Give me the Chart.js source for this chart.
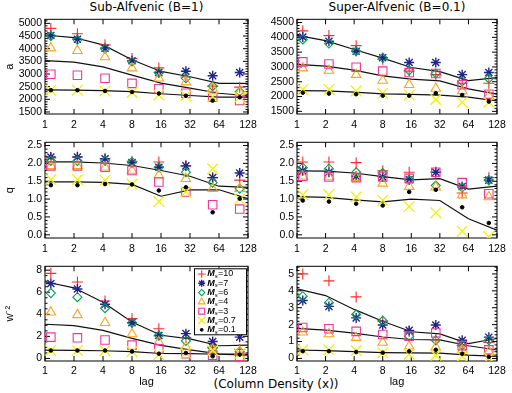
<!DOCTYPE html>
<html>
<head>
<meta charset="utf-8">
<script src="https://cdn.jsdelivr.net/npm/chart.js@4/dist/chart.umd.min.js"></script>
<style>
  body { margin: 0; background: #fff; width: 512px; height: 393px; position: relative; overflow: hidden; font-family: "DejaVu Sans", sans-serif; }
  canvas { position: absolute; }
  .t { position: absolute; font-size: 12px; line-height: 14px; white-space: nowrap; transform: translateX(-50%); color: #000; }
</style>
</head>
<body>
<div class="t" style="left:146.5px;top:0px">Sub-Alfvenic (B=1)</div>
<div class="t" style="left:397px;top:0px">Super-Alfvenic (B=0.1)</div>
<div class="t" style="left:276px;top:377px">(Column Density (x))</div>
<script>
// lag positions of the markers and of the fitted lines
const lags = [1.15, 2.17, 4.2, 8, 15.2, 29, 55, 105];
const lineLags = [1, 2, 4, 8, 16, 32, 64, 128];
const xTicks = [1, 2, 4, 8, 16, 32, 64, 128];
const machLabels = ['10', '7', '6', '4', '3', '0.7', '0.1'];

// rows: Ms = 10, 7, 6, 4, 3, 0.7, 0.1
const aSub = [
  [4800, 4590, 4150, 3610, 3240, 2880, 2520, 2480],
  [4520, 4370, 4020, 3520, 3060, 3110, 2930, 3060],
  [4500, 4350, 4000, 3490, 3050, 2830, 2520, 2300],
  [4020, 3920, 3670, 3230, 2830, 2680, 2430, 2270],
  [2990, 2950, 2830, 2630, 2420, 2240, 2080, 1950],
  [2360, 2360, 2330, 2270, 2170, 2140, 2100, 2080],
  [2360, 2360, 2330, 2290, 2230, 2140, 1950, 2080]
];
const aSubLines = [
  [4540, 4440, 4150, 3560, 3100, 2890, 2630, 2630],
  [3530, 3470, 3280, 2955, 2640, 2440, 2240, 2140],
  [2375, 2365, 2340, 2300, 2220, 2150, 2090, 2085]
];
const aSup = [
  [4220, 4060, 3720, 3260, 2860, 2740, 2450, 2450],
  [4010, 3870, 3530, 3310, 3150, 3150, 2740, 2810],
  [3930, 3790, 3530, 3310, 2880, 2780, 2510, 2610],
  [2960, 2880, 2740, 2540, 2400, 2270, 2190, 2030],
  [3170, 3100, 2990, 2860, 2810, 2780, 2400, 2080],
  [2240, 2240, 2190, 2110, 2050, 1900, 1810, 1810],
  [2130, 2100, 2080, 2030, 2030, 2110, 2050, 1830]
];
const aSupLines = [
  [4070, 3890, 3590, 3300, 2980, 2840, 2540, 2640],
  [3090, 3030, 2890, 2700, 2590, 2530, 2260, 2080],
  [2200, 2190, 2150, 2090, 2070, 2050, 1980, 1850]
];
const qSub = [
  [2.15, 2.18, 2.13, 2.06, 2.04, 1.93, 1.60, 1.53],
  [2.18, 2.18, 2.13, 2.02, 1.89, 1.93, 1.60, 1.73],
  [2.07, 2.07, 2.07, 2.04, 1.89, 1.75, 1.46, 1.29],
  [1.93, 1.93, 1.89, 1.80, 1.67, 1.57, 1.29, 1.29],
  [1.93, 1.93, 1.89, 1.80, 1.48, 1.20, 0.84, 0.72],
  [1.55, 1.55, 1.53, 1.42, 0.93, 1.20, 1.85, 1.00],
  [1.39, 1.39, 1.42, 1.41, 1.24, 1.33, 0.63, 1.01]
];
const qSubLines = [
  [2.04, 2.04, 2.01, 1.94, 1.80, 1.64, 1.36, 1.33],
  [1.48, 1.48, 1.47, 1.41, 1.08, 1.26, 1.26, 1.01]
];
const qSup = [
  [2.04, 2.04, 2.02, 1.79, 1.75, 1.75, 1.17, 1.60],
  [1.79, 1.75, 1.64, 1.62, 1.54, 1.75, 1.35, 1.53],
  [1.88, 1.85, 1.75, 1.73, 1.54, 1.38, 1.33, 1.53],
  [1.64, 1.62, 1.60, 1.44, 1.35, 1.33, 1.11, 1.06],
  [1.64, 1.62, 1.60, 1.62, 1.58, 1.75, 1.46, 1.15],
  [1.12, 1.12, 1.06, 0.97, 0.79, 0.62, 0.10, -0.05],
  [0.96, 0.93, 0.87, 0.82, 1.20, 1.26, 0.77, 0.33]
];
const qSupLines = [
  [1.79, 1.78, 1.73, 1.63, 1.54, 1.57, 1.28, 1.36],
  [1.07, 1.05, 0.98, 0.92, 1.00, 0.96, 0.45, 0.13]
];
const wSub = [
  [7.71, 6.93, 5.20, 3.61, 2.69, 1.90, 1.00, 0.81],
  [6.79, 6.30, 4.91, 3.23, 2.08, 2.25, 1.53, 1.93],
  [5.92, 5.55, 4.56, 3.23, 2.08, 1.59, 0.92, 0.63],
  [4.19, 3.95, 3.23, 2.22, 1.50, 1.07, 0.81, 0.63],
  [1.93, 1.87, 1.67, 1.21, 0.87, 0.43, 0.29, 0.20],
  [0.72, 0.72, 0.72, 0.63, 0.35, 0.49, 0.72, 0.43],
  [0.72, 0.72, 0.72, 0.63, 0.43, 0.49, 0.20, 0.35]
];
const wSubLines = [
  [6.95, 6.40, 5.10, 3.30, 2.10, 1.78, 1.15, 1.20],
  [3.10, 2.98, 2.55, 1.82, 1.18, 0.78, 0.42, 0.37],
  [0.75, 0.74, 0.70, 0.62, 0.45, 0.43, 0.38, 0.30]
];
const wSup = [
  [5.00, 4.59, 3.64, 2.21, 1.60, 1.10, 0.76, 0.94],
  [3.43, 3.08, 2.40, 1.98, 1.66, 1.98, 1.08, 1.26],
  [3.68, 3.30, 2.60, 2.23, 1.32, 1.08, 0.79, 1.08],
  [1.55, 1.45, 1.23, 0.94, 0.72, 0.66, 0.51, 0.42],
  [1.83, 1.76, 1.60, 1.42, 1.32, 1.51, 0.76, 0.51],
  [0.51, 0.51, 0.47, 0.34, 0.25, 0.19, 0.13, 0.04],
  [0.43, 0.43, 0.38, 0.34, 0.42, 0.51, 0.28, 0.09]
];
const wSupLines = [
  [4.12, 3.72, 2.90, 2.20, 1.58, 1.45, 0.88, 1.18],
  [1.78, 1.68, 1.50, 1.27, 1.12, 1.10, 0.75, 0.50],
  [0.50, 0.46, 0.40, 0.35, 0.33, 0.32, 0.20, 0.12]
];

const aSubTicks = [1500, 2000, 2500, 3000, 3500, 4000, 4500, 5000];
const aSupTicks = [1500, 2000, 2500, 3000, 3500, 4000, 4500];
const qTicks = [0, 0.5, 1, 1.5, 2, 2.5];
const wSubTicks = [0, 2, 4, 6, 8];
const wSupTicks = [0, 1, 2, 3, 4, 5];

const seriesStyle = [
  { shape: 'cross',    color: '#ff2a2a', r: 5.5, w: 1.1 },
  { shape: 'star',     color: '#23238f', r: 5,   w: 1.4 },
  { shape: 'rectRot',  color: '#00a050', r: 4.5, w: 1.1 },
  { shape: 'triangle', color: '#ffa31a', r: 5.5, w: 1.1 },
  { shape: 'rect',     color: '#f0369a', r: 6,   w: 1.1 },
  { shape: 'crossRot', color: '#f2f200', r: 7.5, w: 1.3 },
  { shape: 'circle',   color: '#000000', r: 1.8, w: 1, fill: true }
];

const tickFont = { family: '"Liberation Sans", sans-serif', size: 10.5 };

// box = plot area [left, top, right, bottom] in page pixels
const panels = [
  { pts: aSub, lines: aSubLines, ticks: aSubTicks, min: 1420, max: 5160, step: 500, minor: 100, box: [45, 15, 248, 114], yTitle: 'a' },
  { pts: aSup, lines: aSupLines, ticks: aSupTicks, min: 1410, max: 4610, step: 500, minor: 100, box: [297, 15, 497, 114] },
  { pts: qSub, lines: qSubLines, ticks: qTicks, min: -0.09, max: 2.59, step: 0.5, minor: 0.1, box: [45, 138, 248, 238], yTitle: 'q', dec: 1 },
  { pts: qSup, lines: qSupLines, ticks: qTicks, min: -0.09, max: 2.59, step: 0.5, minor: 0.1, box: [297, 138, 497, 238], dec: 1 },
  { pts: wSub, lines: wSubLines, ticks: wSubTicks, min: -0.23, max: 8.35, step: 2, minor: 0.5, box: [45, 262, 248, 361], yTitle: 'w\u207B\u00B2', xTitle: 'lag', legend: true },
  { pts: wSup, lines: wSupLines, ticks: wSupTicks, min: -0.15, max: 5.45, step: 1, minor: 0.2, box: [297, 262, 497, 361], xTitle: 'lag' }
];

// frame with inward ticks on all four sides, like the original
const frameTicks = {
  id: 'frameTicks',
  beforeDatasetsDraw(chart, args, opts) {
    const { ctx, chartArea: a, scales: { x, y } } = chart;
    ctx.save();
    ctx.strokeStyle = '#000';
    ctx.lineWidth = 1;
    ctx.strokeRect(a.left, a.top, a.right - a.left, a.bottom - a.top);
    ctx.beginPath();
    xTicks.forEach(v => {
      const px = x.getPixelForValue(v);
      ctx.moveTo(px, a.bottom); ctx.lineTo(px, a.bottom - 5);
      ctx.moveTo(px, a.top); ctx.lineTo(px, a.top + 5);
    });
    const i0 = Math.ceil(y.min / opts.minor - 1e-9), i1 = Math.floor(y.max / opts.minor + 1e-9);
    for (let i = i0; i <= i1; i++) {
      const v = i * opts.minor;
      const py = y.getPixelForValue(v);
      const r = v / opts.step;
      const len = Math.abs(r - Math.round(r)) < 1e-6 ? 5 : 2.5;
      ctx.moveTo(a.left, py); ctx.lineTo(a.left + len, py);
      ctx.moveTo(a.right, py); ctx.lineTo(a.right - len, py);
    }
    ctx.stroke();
    ctx.restore();
  }
};

// boxed legend inside the lower-left panel
const machLegend = {
  id: 'machLegend',
  afterDatasetsDraw(chart, args, opts) {
    if (!opts.show) return;
    const { ctx, chartArea: a } = chart;
    const w = 52, h = 66, x0 = a.right - w - 2, y0 = a.top + 2;
    ctx.save();
    ctx.fillStyle = '#fff';
    ctx.fillRect(x0, y0, w, h);
    ctx.strokeStyle = '#000';
    ctx.lineWidth = 1;
    ctx.strokeRect(x0 + 0.5, y0 + 0.5, w, h);
    machLabels.forEach((m, k) => {
      const s = seriesStyle[k];
      const cy = y0 + 5.7 + k * 9.3;
      ctx.strokeStyle = s.color;
      ctx.fillStyle = s.fill ? s.color : 'rgba(0,0,0,0)';
      ctx.lineWidth = s.w;
      Chart.helpers.drawPoint(ctx, { pointStyle: s.shape, radius: s.fill ? 1.4 : s.r * 0.7, rotation: 0, borderWidth: s.w }, x0 + 7.7, cy);
      ctx.fillStyle = '#000';
      ctx.textBaseline = 'middle';
      let tx = x0 + 13.3;
      ctx.font = 'italic bold 9px "Liberation Sans"';
      ctx.fillText('M', tx, cy);
      tx += ctx.measureText('M').width;
      ctx.font = 'italic 6px "Liberation Sans"';
      ctx.fillText('s', tx, cy + 2.5);
      tx += ctx.measureText('s').width + 0.3;
      ctx.font = '9px "Liberation Sans"';
      ctx.fillText('=' + m, tx, cy);
    });
    ctx.restore();
  }
};

panels.forEach(p => {
  const [L, T, R, B] = p.box;
  const xH = p.xTitle ? 393 - B : 18;
  const cv = document.createElement('canvas');
  cv.width = R - L + 45 + 14;
  cv.height = B - T + 5 + xH;
  cv.style.left = (L - 45) + 'px';
  cv.style.top = (T - 5) + 'px';
  document.body.appendChild(cv);

  const datasets = [];
  p.lines.forEach(ln => datasets.push({
    type: 'line',
    data: lineLags.map((x, i) => ({ x, y: ln[i] })),
    showLine: true, borderColor: '#111', borderWidth: 1.2, pointRadius: 0, tension: 0, order: 10
  }));
  p.pts.forEach((ser, k) => {
    const s = seriesStyle[k];
    datasets.push({
      label: 'Ms=' + machLabels[k],
      data: lags.map((x, i) => ({ x, y: ser[i] })),
      showLine: false,
      pointStyle: s.shape,
      pointRadius: s.r,
      borderColor: s.color,
      pointBorderColor: s.color,
      pointBackgroundColor: s.fill ? s.color : 'rgba(0,0,0,0)',
      pointBorderWidth: s.w,
      order: 7 - k
    });
  });

  new Chart(cv, {
    type: 'scatter',
    data: { datasets },
    plugins: [frameTicks, machLegend],
    options: {
      responsive: false,
      animation: false,
      events: [],
      layout: { padding: { top: 5, right: 14, left: 0, bottom: 0 } },
      plugins: {
        legend: { display: false },
        tooltip: { enabled: false },
        frameTicks: { step: p.step, minor: p.minor },
        machLegend: { show: !!p.legend }
      },
      scales: {
        x: {
          type: 'logarithmic', min: 1, max: 128,
          grid: { display: false, drawTicks: false },
          border: { display: false },
          afterBuildTicks: s => { s.ticks = xTicks.map(v => ({ value: v })); },
          afterFit: s => { s.height = xH; },
          ticks: { callback: v => String(v), color: '#000', font: tickFont, padding: p.xTitle ? 3.5 : 5, maxRotation: 0, autoSkip: false },
          title: { display: !!p.xTitle, text: p.xTitle || '', color: '#000', font: { family: '"Liberation Sans", sans-serif', size: 11 }, padding: { top: 2, bottom: 4 } }
        },
        y: {
          type: 'linear', min: p.min, max: p.max,
          grid: { display: false, drawTicks: false },
          border: { display: false },
          afterBuildTicks: s => { s.ticks = p.ticks.map(v => ({ value: v })); },
          afterFit: s => { s.width = 45; },
          ticks: { callback: v => p.dec ? v.toFixed(p.dec) : String(v), color: '#000', font: tickFont, padding: 3, autoSkip: false },
          title: { display: !!p.yTitle, text: p.yTitle || '', color: '#000', font: { family: '"Liberation Sans", sans-serif', size: 11 }, padding: { top: 3, bottom: 0 } }
        }
      }
    }
  });
});
</script>
</body>
</html>
